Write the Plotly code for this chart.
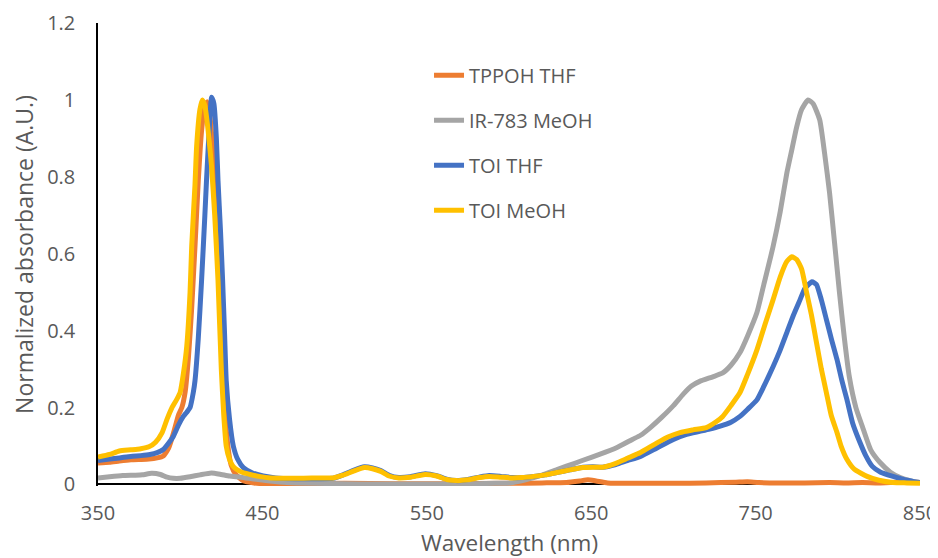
import plotly.graph_objects as go

# ---------------- data ----------------
series_names = ["TPPOH THF", "IR-783 MeOH", "TOI THF", "TOI MeOH"]
series_colors = ["#ED7D31", "#A5A5A5", "#4472C4", "#FFC000"]

tppoh_thf_x = [350, 357, 363, 370, 375.5, 381, 386, 389.7, 393, 396, 398.9, 401, 403, 405, 407, 409, 411, 413,
               415, 416.5, 418, 420, 422, 424, 425.5, 427, 429, 431, 434, 438.4, 445, 450, 470, 500, 530, 560,
               600, 620, 635, 643, 648, 653, 660, 680, 700, 720, 738, 745, 752, 765, 780, 795, 805, 815, 825,
               835, 843, 850]
tppoh_thf_y = [0.056, 0.058, 0.061, 0.064, 0.065, 0.066, 0.069, 0.074, 0.095, 0.135, 0.180, 0.200, 0.240, 0.330,
               0.460, 0.620, 0.790, 0.920, 0.985, 0.995, 0.960, 0.860, 0.700, 0.500, 0.330, 0.200, 0.100, 0.050,
               0.025, 0.010, 0.004, 0.002, 0.002, 0.003, 0.002, 0.002, 0.003, 0.004, 0.005, 0.009, 0.012, 0.009,
               0.004, 0.003, 0.003, 0.004, 0.006, 0.007, 0.005, 0.004, 0.004, 0.005, 0.004, 0.005, 0.004, 0.006,
               0.007, 0.005]

ir783_meoh_x = [350, 357, 365, 372, 377, 382.6, 388, 392, 395.8, 400, 406, 412, 419, 425, 430, 437, 445, 454.6,
                465, 480, 500, 520, 540, 560, 580, 592, 600.6, 610, 620, 630, 640, 645, 655, 665.7, 675, 680, 686,
                693, 700, 706, 711, 716, 724, 730, 735, 740.5, 745, 750.8, 755, 760.6, 765, 769, 772, 775, 778,
                781.9, 785, 789, 792, 795, 798, 801, 804, 807, 811, 815, 820, 825.7, 832, 838, 844, 850]
ir783_meoh_y = [0.017, 0.020, 0.023, 0.024, 0.025, 0.029, 0.026, 0.019, 0.016, 0.016, 0.020, 0.025, 0.030, 0.026,
                0.022, 0.019, 0.014, 0.009, 0.005, 0.003, 0.002, 0.001, 0.001, 0.001, 0.002, 0.003, 0.004, 0.012,
                0.024, 0.040, 0.055, 0.063, 0.078, 0.096, 0.117, 0.128, 0.148, 0.175, 0.205, 0.235, 0.256, 0.268,
                0.280, 0.290, 0.310, 0.343, 0.385, 0.447, 0.520, 0.618, 0.710, 0.810, 0.870, 0.930, 0.975, 1.000,
                0.990, 0.948, 0.860, 0.758, 0.630, 0.500, 0.380, 0.280, 0.200, 0.150, 0.090, 0.057, 0.032, 0.018,
                0.010, 0.005]

toi_thf_x = [350, 357, 363, 370, 376, 381.6, 386, 389.7, 393, 395.8, 399, 401.9, 404, 406, 408, 409, 411, 413,
             415, 416, 418, 419.1, 420.5, 422, 423, 424.5, 425.8, 427, 428, 430, 432.3, 435, 438.4, 444, 450.5,
             458, 470, 485, 493, 499, 505, 512, 517, 522, 527, 533, 540, 549, 556, 562, 568, 575, 582, 588, 595,
             602, 608, 615, 622, 629, 637, 645, 651, 657, 665, 672, 680, 690, 700, 708, 716, 722, 728, 735,
             740.5, 745, 750.8, 755, 760.6, 765, 769, 773, 777, 780, 784.3, 787, 790, 793, 796, 799.5, 802.5,
             805.6, 809, 813.5, 817, 821, 826, 833.6, 840, 845.7, 850]
toi_thf_y = [0.062, 0.066, 0.069, 0.073, 0.075, 0.078, 0.083, 0.091, 0.108, 0.125, 0.155, 0.177, 0.188, 0.200,
             0.240, 0.270, 0.380, 0.530, 0.700, 0.790, 0.950, 1.007, 0.990, 0.900, 0.790, 0.660, 0.530, 0.390,
             0.270, 0.170, 0.100, 0.065, 0.044, 0.030, 0.022, 0.017, 0.015, 0.015, 0.016, 0.025, 0.036, 0.046,
             0.043, 0.036, 0.024, 0.018, 0.020, 0.028, 0.023, 0.014, 0.010, 0.013, 0.019, 0.023, 0.021, 0.018,
             0.018, 0.021, 0.025, 0.031, 0.038, 0.045, 0.046, 0.045, 0.052, 0.062, 0.073, 0.095, 0.117, 0.130,
             0.138, 0.144, 0.151, 0.162, 0.177, 0.195, 0.220, 0.255, 0.306, 0.350, 0.395, 0.440, 0.480, 0.510,
             0.527, 0.520, 0.480, 0.430, 0.380, 0.325, 0.270, 0.220, 0.160, 0.109, 0.075, 0.047, 0.032, 0.021,
             0.013, 0.008, 0.005]

toi_meoh_x = [350, 357, 363, 370, 376, 381, 385, 389, 392, 395, 398, 400, 402, 404, 406, 407, 409, 410, 412,
              413.5, 415, 417, 419, 421, 423, 425, 426.5, 428, 430, 432, 434.4, 438, 442.5, 448, 455, 465, 475,
              485, 493, 499, 505, 512, 517, 522, 527, 533, 540, 549, 556, 562, 568, 575, 582, 588, 595, 602, 608,
              615, 622, 629, 637, 645, 651, 657, 665, 672, 680, 690, 697, 704, 712, 720, 726, 730, 735, 740.5,
              745, 750.8, 756, 760.6, 765, 769, 772, 775, 778, 781, 784, 787, 790, 793, 796, 799.5, 802, 805.6,
              810, 817.8, 825, 833.6, 842, 850]
toi_meoh_y = [0.071, 0.078, 0.087, 0.090, 0.093, 0.098, 0.110, 0.135, 0.170, 0.200, 0.222, 0.240, 0.290, 0.360,
              0.500, 0.620, 0.780, 0.880, 0.975, 1.000, 0.985, 0.920, 0.830, 0.700, 0.530, 0.300, 0.180, 0.100,
              0.065, 0.048, 0.039, 0.031, 0.026, 0.021, 0.017, 0.016, 0.016, 0.017, 0.017, 0.024, 0.034, 0.044,
              0.041, 0.034, 0.022, 0.017, 0.019, 0.026, 0.022, 0.013, 0.010, 0.012, 0.018, 0.021, 0.019, 0.017,
              0.018, 0.021, 0.025, 0.031, 0.038, 0.044, 0.045, 0.045, 0.055, 0.068, 0.083, 0.108, 0.124, 0.135,
              0.142, 0.148, 0.163, 0.177, 0.205, 0.239, 0.285, 0.350, 0.420, 0.480, 0.540, 0.580, 0.592, 0.585,
              0.560, 0.500, 0.440, 0.370, 0.300, 0.240, 0.180, 0.135, 0.100, 0.065, 0.040, 0.021, 0.011, 0.005,
              0.004, 0.003]

x_tick_vals = [350, 450, 550, 650, 750, 850]
y_tick_vals = [0, 0.2, 0.4, 0.6, 0.8, 1, 1.2]
y_tick_text = ["0", "0.2", "0.4", "0.6", "0.8", "1", "1.2"]

x_title = "Wavelength (nm)"
y_title = "Normalized absorbance (A.U.)"

# ---------------- figure ----------------
FONT = "Open Sans"
TXT = "#595959"

xs = [tppoh_thf_x, ir783_meoh_x, toi_thf_x, toi_meoh_x]
ys = [tppoh_thf_y, ir783_meoh_y, toi_thf_y, toi_meoh_y]

fig = go.Figure()
for name, color, x, y in zip(series_names, series_colors, xs, ys):
    fig.add_trace(go.Scatter(
        x=x, y=y, name=name, mode="lines", legendgroup=name,
        line=dict(color=color, width=5, shape="spline", smoothing=0.5),
    ))

# page body has an 8px margin, so the figure is drawn 8px in from the window corner
fig.update_layout(
    width=938, height=558,
    margin=dict(l=90, r=26, t=15, b=79.5),
    paper_bgcolor="white", plot_bgcolor="white",
    font=dict(family=FONT, color=TXT, size=20),
    showlegend=True,
    legend=dict(
        x=0.4027, y=0.929, xanchor="left", yanchor="top",
        font=dict(family=FONT, size=20, color=TXT),
        bgcolor="rgba(0,0,0,0)", tracegroupgap=16,
    ),
    xaxis=dict(
        range=[350, 850], tickvals=x_tick_vals, ticktext=[str(v) for v in x_tick_vals],
        showgrid=False, zeroline=False, showline=False, ticks="",
        tickfont=dict(family=FONT, size=20, color=TXT),
        ticklabelstandoff=13,
        automargin=False,
    ),
    yaxis=dict(
        range=[-0.004, 1.2], tickvals=y_tick_vals, ticktext=y_tick_text,
        showgrid=False, zeroline=True, zerolinecolor="black", zerolinewidth=1.5,
        showline=True, linecolor="black", linewidth=1.5, ticks="",
        tickfont=dict(family=FONT, size=20, color=TXT),
        ticklabelstandoff=17,
        title=dict(text=y_title, font=dict(family=FONT, size=23, color=TXT), standoff=8),
        automargin=False,
    ),
    annotations=[dict(
        text=x_title, xref="paper", yref="paper", x=0.5, y=0,
        xanchor="center", yanchor="middle", yshift=-56.5, showarrow=False,
        font=dict(family=FONT, size=22.5, color=TXT),
    )],
)

fig.write_html("out.html")
